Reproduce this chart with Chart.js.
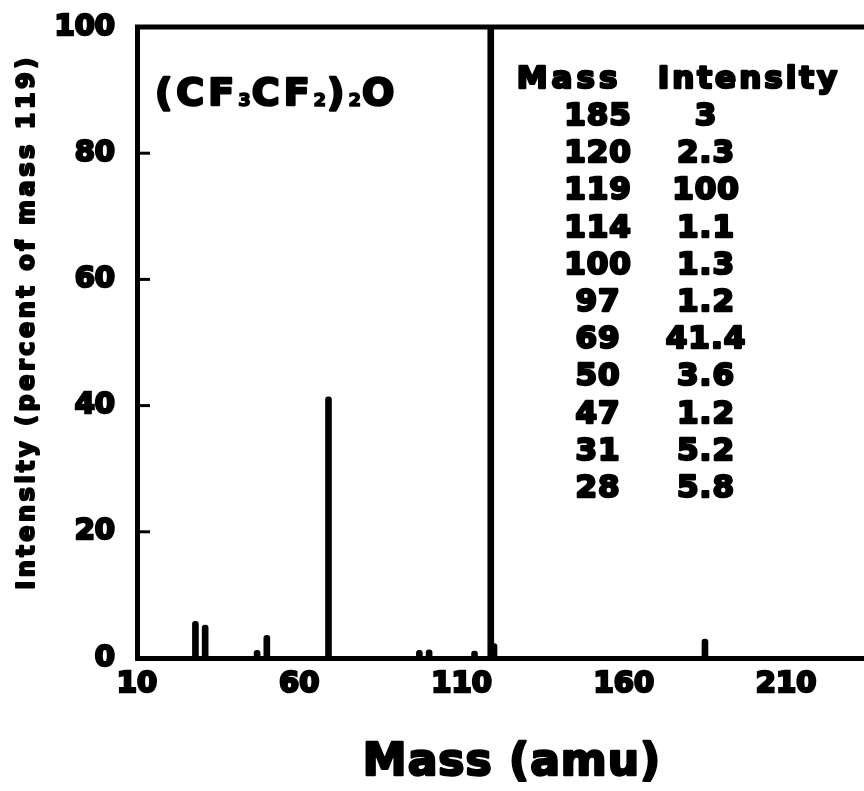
<!DOCTYPE html>
<html>
<head>
<meta charset="utf-8">
<script src="https://cdn.jsdelivr.net/npm/chart.js@4/dist/chart.umd.min.js"></script>
<style>
  html, body { margin:0; padding:0; background:#fff; }
  #wrap { width:864px; height:791px; }
</style>
</head>
<body>
<div id="wrap"><canvas id="myChart" width="864" height="791"></canvas></div>
<script>
const massas       = [28, 31, 47, 50, 69, 97, 100, 114, 119, 120, 185];
const intensidades = [5.8, 5.2, 1.2, 3.6, 41.4, 1.2, 1.3, 1.1, 100, 2.3, 3];

// eixos
const ticksX = [10, 60, 110, 160, 210];
const ticksY = [0, 20, 40, 60, 80, 100];
const tituloX = 'Mass (amu)';
const tituloY = 'Intensity (percent of mass 119)';

// formula: [texto, subscrito?]
const formula = [['(CF', false], ['3', true], ['CF', false], ['2', true], [')', false], ['2', true], ['O', false]];
const cabecalho = ['Mass', 'Intensity'];

(function(){
  'use strict';

  const FONTE = '"DejaVu Sans", "Liberation Sans", sans-serif';

  // tabela na ordem da figura (massa decrescente)
  function linhasTabela(){
    return massas.map((m, i) => [m, intensidades[i]]).sort((a, b) => b[0] - a[0]);
  }

  // texto "gordo": preenche e contorna
  function textoGrosso(ctx, t, x, y, lw){
    ctx.lineWidth = lw;
    ctx.lineJoin = 'round';
    ctx.strokeText(t, x, y);
    ctx.fillText(t, x, y);
  }

  const molduraPlugin = {
    id: 'moldura',
    afterDatasetsDraw(chart){
      const {ctx, chartArea} = chart;
      const y = chart.scales.y;
      ctx.save();
      ctx.strokeStyle = '#000';
      // linha de cima
      ctx.lineWidth = 5;
      ctx.beginPath();
      ctx.moveTo(chartArea.left - 2, chartArea.top);
      ctx.lineTo(chartArea.right, chartArea.top);
      ctx.stroke();
      // marcas internas do eixo y
      ctx.lineWidth = 3;
      ticksY.slice(1, -1).forEach(v => {
        const py = y.getPixelForValue(v);
        ctx.beginPath();
        ctx.moveTo(chartArea.left, py);
        ctx.lineTo(chartArea.left + 13, py);
        ctx.stroke();
      });
      ctx.restore();
    },
    afterDraw(chart){
      const {ctx} = chart;
      ctx.save();
      ctx.fillStyle = '#000';
      ctx.strokeStyle = '#000';

      // titulo eixo x
      ctx.font = 'bold 44px ' + FONTE;
      ctx.letterSpacing = '1px';
      ctx.textAlign = 'center';
      ctx.textBaseline = 'alphabetic';
      textoGrosso(ctx, tituloX, 512, 775, 2.5);

      // titulo eixo y
      ctx.save();
      ctx.translate(34, 322);
      ctx.rotate(-Math.PI / 2);
      ctx.font = 'bold 24px ' + FONTE;
      ctx.letterSpacing = '3.5px';
      textoGrosso(ctx, tituloY, 0, 0, 2);
      ctx.restore();

      // formula
      let x = 155;
      ctx.textAlign = 'left';
      formula.forEach(([t, sub]) => {
        if (sub){
          ctx.font = 'bold 18px ' + FONTE;
          ctx.letterSpacing = '1px';
          textoGrosso(ctx, t, x, 106, 1.5);
        } else {
          ctx.font = 'bold 38px ' + FONTE;
          ctx.letterSpacing = '4px';
          textoGrosso(ctx, t, x, 105, 2.5);
        }
        x += ctx.measureText(t).width;
      });

      // tabela
      ctx.font = 'bold 31px ' + FONTE;
      ctx.textAlign = 'center';
      ctx.letterSpacing = '4px';
      textoGrosso(ctx, cabecalho[0], 569, 88, 2.5);
      ctx.letterSpacing = '3px';
      textoGrosso(ctx, cabecalho[1], 749, 88, 2.5);
      ctx.letterSpacing = '1px';
      linhasTabela().forEach((r, i) => {
        const by = 125 + i * 37.2;
        textoGrosso(ctx, String(r[0]), 598, by, 2.5);
        textoGrosso(ctx, String(r[1]), 706, by, 2.5);
      });
      ctx.restore();
    }
  };

  function init(){
    const ctx = document.getElementById('myChart').getContext('2d');
    const fonteTick = {family: FONTE, weight: 'bold', size: 29};

    new Chart(ctx, {
      type: 'bar',
      data: {
        datasets: [{
          data: massas.map((m, i) => ({x: m, y: intensidades[i]})),
          backgroundColor: '#000',
          barThickness: 6,
          borderRadius: {topLeft: 3, topRight: 3}
        }]
      },
      options: {
        responsive: false,
        animation: false,
        layout: {autoPadding: false, padding: {top: 27, left: 0, right: 0, bottom: 0}},
        plugins: {legend: {display: false}, tooltip: {enabled: false}},
        scales: {
          x: {
            type: 'linear',
            min: 10,
            max: 234,
            offset: false,
            afterBuildTicks: s => { s.ticks = ticksX.map(v => ({value: v})); },
            afterFit: s => { s.height = 133; s.paddingLeft = 0; s.paddingRight = 0; },
            grid: {display: false, drawTicks: false, offset: false},
            border: {display: true, color: '#000', width: 5},
            ticks: {color: '#000', font: fonteTick, padding: 9, maxRotation: 0, autoSkip: false,
                    textStrokeColor: '#000', textStrokeWidth: 2.5}
          },
          y: {
            min: 0,
            max: 100,
            afterBuildTicks: s => { s.ticks = ticksY.map(v => ({value: v})); },
            afterFit: s => { s.width = 137; s.paddingTop = 0; s.paddingBottom = 0; },
            grid: {display: false, drawTicks: false},
            border: {display: true, color: '#000', width: 5},
            ticks: {color: '#000', font: fonteTick, padding: 22,
                    textStrokeColor: '#000', textStrokeWidth: 2.5}
          }
        }
      },
      plugins: [molduraPlugin]
    });
  }

  if (document.readyState === 'loading'){
    document.addEventListener('DOMContentLoaded', init);
  } else {
    init();
  }
})();
</script>
</body>
</html>
